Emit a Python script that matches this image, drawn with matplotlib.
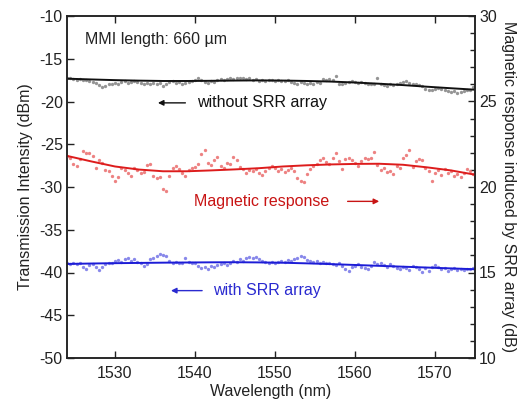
import numpy as np
import matplotlib
matplotlib.use("Agg")
import matplotlib.pyplot as plt

plt.rcParams['font.family'] = ['Liberation Sans', 'DejaVu Sans']
plt.rcParams['axes.unicode_minus'] = False

# ---- data ----
without_srr = [
    -17.2, -17.3,
    -17.4, -17.5, -17.4, -17.5,
    -17.5, -17.6, -17.7, -17.8,
    -18.1, -18.3, -18.2, -18.0,
    -17.9, -17.8, -17.9,
    -17.7, -17.6, -17.8, -17.7, -17.6,
    -17.7, -17.8, -17.9, -17.8, -18.0,
    -17.8, -17.9, -17.8,
    -18.2, -17.9,
    -17.7, -17.6, -17.8, -17.7, -17.9,
    -17.8, -17.7, -17.6, -17.5,
    -17.2, -17.5,
    -17.7, -17.8, -17.6, -17.7,
    -17.5, -17.4, -17.5,
    -17.4, -17.3, -17.4, -17.2, -17.3, -17.3,
    -17.4, -17.3, -17.5, -17.4, -17.6, -17.5, -17.6, -17.5,
    -17.5, -17.6, -17.5, -17.6, -17.6, -17.5,
    -17.7, -17.8, -17.9, -17.7, -17.8, -18.0, -17.8, -17.9, -17.7, -17.8,
    -17.4, -17.5, -17.4, -17.5,
    -17.0, -17.9,
    -17.9, -17.8, -17.7,
    -17.6, -17.7, -17.8, -17.7, -17.8, -17.9,
    -18.0, -17.9,
    -17.3, -18.0,
    -18.1, -18.2, -18.0, -18.1, -18.0,
    -17.8, -17.7, -17.6, -17.8, -17.9,
    -18.0, -18.1, -18.2,
    -18.5, -18.7, -18.6, -18.5,
    -18.4, -18.5, -18.6,
    -18.8, -18.9, -18.8, -19.0, -18.9,
    -18.8, -18.7, -18.6, -18.3,
]

magnetic = [
    21.82, 21.70, 21.34, 21.24, 21.63, 22.11, 21.96, 22.00, 21.82, 21.14,
    21.57, 21.43, 20.99, 20.91, 20.66, 20.37, 20.56, 21.14, 20.99, 20.80,
    20.66, 21.14, 20.99, 20.80, 20.85, 21.30, 21.37, 20.66, 20.50, 20.56,
    19.88, 19.75, 20.66, 21.14, 21.24, 21.05, 20.80, 20.66, 20.99, 21.14,
    21.18, 21.37, 21.92, 22.15, 21.43, 21.30, 21.57, 21.76, 21.24, 21.14,
    21.43, 21.34, 21.76, 21.57, 21.18, 21.05, 20.80, 20.99, 20.91, 21.05,
    20.80, 20.72, 20.95, 21.10,
    21.20, 21.14, 20.95, 21.05, 20.85, 20.99, 21.14, 20.95, 20.52, 20.37,
    20.27, 20.75, 21.05, 21.24, 21.34, 21.57, 21.72, 21.49, 21.37, 21.68,
    22.00, 21.53, 21.08, 21.63, 21.68, 21.57, 21.43, 21.24, 21.53, 21.68,
    21.63, 21.72, 22.07, 21.30, 20.99, 21.10, 20.85, 20.95, 20.75, 21.24,
    21.14, 21.68, 21.88, 22.15, 21.18, 21.53, 21.63, 21.57, 21.14, 20.91,
    20.37, 20.80, 20.99, 20.72, 21.05, 20.80, 20.91, 20.66, 20.75, 20.56,
    20.80, 21.05, 20.91, 20.75,
]

with_srr = [
    -38.85, -39.00, -38.93, -39.00, -38.93, -39.40, -39.63, -39.10, -39.00, -39.32,
    -39.70, -39.32, -39.00, -38.85, -38.93, -38.62, -38.54, -38.73, -38.46, -38.34,
    -38.62, -38.46, -38.73, -38.93, -39.24, -39.00, -38.46, -38.34, -38.07, -37.84,
    -37.95, -38.07, -38.62, -38.85, -38.73, -38.85, -38.93, -38.34, -38.73, -38.93,
    -38.85, -39.24, -39.51, -39.32, -39.63, -39.24, -39.32, -39.10, -39.00, -38.93,
    -39.10, -38.85, -38.62, -38.73, -38.46, -38.62, -38.34, -38.23, -38.34, -38.15,
    -38.46, -38.62, -38.73, -38.85,
    -38.73, -38.93, -38.77, -38.62, -38.73, -38.54, -38.62, -38.46, -38.34, -38.07,
    -38.23, -38.54, -38.62, -38.73, -38.62, -38.85, -38.73, -38.93, -38.85, -39.00,
    -39.10, -38.93, -39.24, -39.63, -39.79, -39.40, -39.24, -39.00, -39.32, -39.51,
    -39.63, -39.24, -38.73, -39.00, -38.85, -39.10, -39.32, -39.00, -39.24, -39.51,
    -39.63, -39.40, -39.51, -39.71, -39.24, -39.32, -39.63, -39.90, -39.51, -39.79,
    -39.32, -39.10, -39.40, -39.63, -39.51, -39.79, -39.63, -39.51, -39.71, -39.63,
    -39.71, -39.55, -39.63, -39.51,
]

wl_start, wl_end = 1524.0, 1574.8

# smooth fitted curves
fit_wl = [1524, 1527, 1530, 1533, 1536, 1539, 1542, 1545, 1548, 1551,
          1554, 1557, 1560, 1563, 1566, 1569, 1572, 1575]
fit_without = [-17.33, -17.42, -17.50, -17.56, -17.60, -17.60, -17.58, -17.55, -17.53, -17.55,
               -17.60, -17.67, -17.78, -17.92, -18.08, -18.27, -18.45, -18.62]
fit_magnetic = [21.82, 21.50, 21.20, 21.02, 20.92, 20.92, 20.97, 21.03, 21.10, 21.20,
                21.27, 21.32, 21.35, 21.36, 21.30, 21.15, 20.97, 20.72]
fit_with = [-39.00, -38.95, -38.91, -38.88, -38.85, -38.83, -38.81, -38.80, -38.82, -38.86,
            -38.93, -39.02, -39.12, -39.22, -39.32, -39.42, -39.52, -39.62]

xticks = [1530, 1540, 1550, 1560, 1570]
left_ticks = [-50, -45, -40, -35, -30, -25, -20, -15, -10]
right_ticks = [10, 15, 20, 25, 30]

# ---- figure ----
fig = plt.figure(figsize=(5.22, 4.05), dpi=100)
ax = fig.add_axes([67/522, 1-358/405, 408/522, 342/405])
ax2 = ax.twinx()

wl = np.linspace(wl_start, wl_end, len(without_srr))
wl_m = np.linspace(wl_start, wl_end, len(magnetic))
wl_w = np.linspace(wl_start, wl_end, len(with_srr))

ax.plot(wl, without_srr, 'o', ms=2.4, mew=0, color='#8a8a8a', alpha=0.9)
ax.plot(fit_wl, fit_without, '-', color='#111111', lw=1.4)
ax.plot(wl_w, with_srr, 'o', ms=2.4, mew=0, color='#7b7be8', alpha=0.9)
ax.plot(fit_wl, fit_with, '-', color='#1c1cd6', lw=1.4)
ax2.plot(wl_m, magnetic, 'o', ms=2.4, mew=0, color='#ec7474', alpha=0.9)
ax2.plot(fit_wl, fit_magnetic, '-', color='#dd1c1c', lw=1.4)

ax.set_xlim(1524, 1575)
ax.set_ylim(-50, -10)
ax2.set_ylim(10, 30)
ax.set_xticks(xticks)
ax.set_yticks(left_ticks)
ax2.set_yticks(right_ticks)
ax2.set_yticks(np.arange(10, 31, 1), minor=True)

tc = '#222222'
ax.tick_params(axis='x', direction='in', top=True, length=5, width=1, labelsize=11.5, colors=tc, pad=6)
ax.tick_params(axis='y', direction='in', length=5, width=1, labelsize=11.5, colors=tc, pad=3)
ax2.tick_params(axis='y', which='major', direction='in', length=5, width=1, labelsize=11.5, colors=tc, pad=3)
ax2.tick_params(axis='y', which='minor', direction='in', length=3.5, width=1, colors=tc)
for a in (ax, ax2):
    for s in a.spines.values():
        s.set_color('#222222')
        s.set_linewidth(1.1)

ax.set_xlabel('Wavelength (nm)', fontsize=11.5, color=tc, labelpad=2)
ax.set_ylabel('Transmission Intensity (dBm)', fontsize=11.5, color=tc, labelpad=5)
ax2.set_ylabel('Magnetic response induced by SRR array (dB)', fontsize=11.5, color=tc,
               rotation=270, labelpad=14)

ax.text(0.044, 0.93, 'MMI length: 660 µm', transform=ax.transAxes, fontsize=11.5,
        color=tc, va='center', ha='left')

ax.text(0.319, 0.746, 'without SRR array', transform=ax.transAxes, fontsize=11.5,
        color='#111111', va='center', ha='left')
ax.annotate('', xy=(0.216, 0.746), xytext=(0.297, 0.746), xycoords='axes fraction',
            arrowprops=dict(arrowstyle='-|>', color='#111111', lw=1.0, mutation_scale=8))

ax.text(0.311, 0.458, 'Magnetic response', transform=ax.transAxes, fontsize=11.5,
        color='#c81414', va='center', ha='left')
ax.annotate('', xy=(0.772, 0.458), xytext=(0.681, 0.458), xycoords='axes fraction',
            arrowprops=dict(arrowstyle='-|>', color='#c81414', lw=1.0, mutation_scale=8))

ax.text(0.358, 0.197, 'with SRR array', transform=ax.transAxes, fontsize=11.5,
        color='#2a2ad0', va='center', ha='left')
ax.annotate('', xy=(0.248, 0.197), xytext=(0.338, 0.197), xycoords='axes fraction',
            arrowprops=dict(arrowstyle='-|>', color='#2a2ad0', lw=1.0, mutation_scale=8))

fig.savefig('out.png', dpi=100)
